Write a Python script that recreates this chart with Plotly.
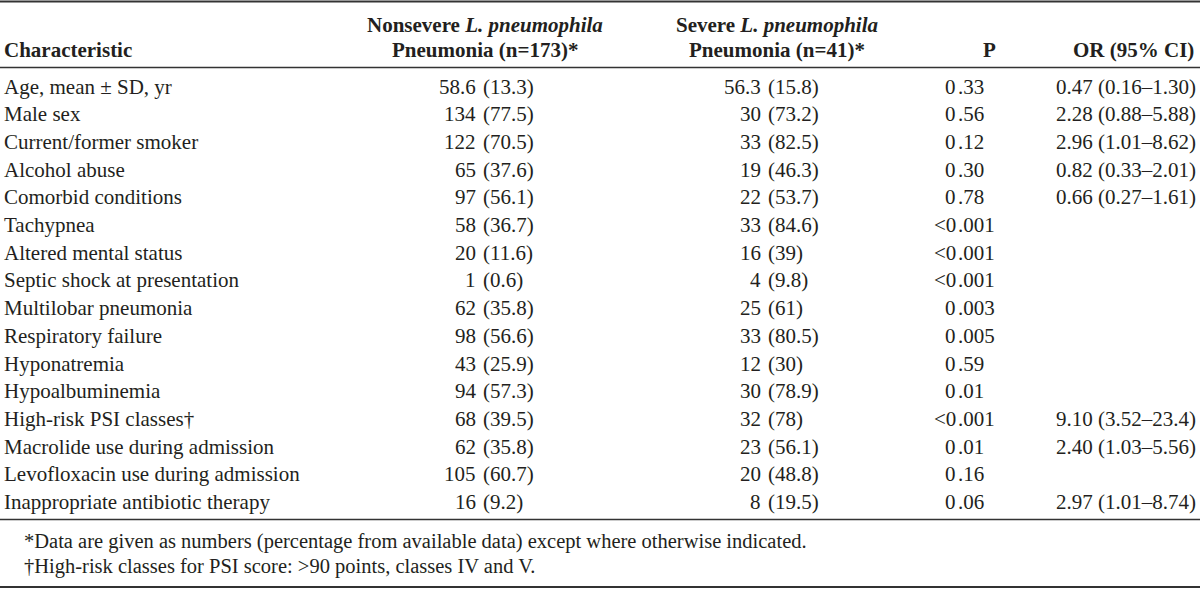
import plotly.graph_objects as go

characteristics = [
    "Age, mean ± SD, yr", "Male sex", "Current/former smoker", "Alcohol abuse",
    "Comorbid conditions", "Tachypnea", "Altered mental status",
    "Septic shock at presentation", "Multilobar pneumonia", "Respiratory failure",
    "Hyponatremia", "Hypoalbuminemia", "High-risk PSI classes†",
    "Macrolide use during admission", "Levofloxacin use during admission",
    "Inappropriate antibiotic therapy",
]
nonsevere_n = ["58.6", "134", "122", "65", "97", "58", "20", "1", "62", "98", "43", "94", "68", "62", "105", "16"]
nonsevere_pct = ["13.3", "77.5", "70.5", "37.6", "56.1", "36.7", "11.6", "0.6", "35.8", "56.6", "25.9", "57.3", "39.5", "35.8", "60.7", "9.2"]
severe_n = ["56.3", "30", "33", "19", "22", "33", "16", "4", "25", "33", "12", "30", "32", "23", "20", "8"]
severe_pct = ["15.8", "73.2", "82.5", "46.3", "53.7", "84.6", "39", "9.8", "61", "80.5", "30", "78.9", "78", "56.1", "48.8", "19.5"]
p_values = ["0.33", "0.56", "0.12", "0.30", "0.78", "<0.001", "<0.001", "<0.001", "0.003", "0.005", "0.59", "0.01", "<0.001", "0.01", "0.16", "0.06"]
odds_ratios = ["0.47 (0.16–1.30)", "2.28 (0.88–5.88)", "2.96 (1.01–8.62)", "0.82 (0.33–2.01)",
               "0.66 (0.27–1.61)", "", "", "", "", "", "", "", "9.10 (3.52–23.4)",
               "2.40 (1.03–5.56)", "", "2.97 (1.01–8.74)"]
headers = ["Characteristic", "Nonsevere <i>L. pneumophila</i><br>Pneumonia (n=173)*",
           "Severe <i>L. pneumophila</i><br>Pneumonia (n=41)*", "P", "OR (95% CI)"]
footnotes = ["*Data are given as numbers (percentage from available data) except where otherwise indicated.",
             "†High-risk classes for PSI score: >90 points, classes IV and V."]

W, H = 1200, 589
FONT = "Liberation Serif"
TXT = "#231f20"
FS = 21

# layout geometry (pixels)
x_char = 3
x_col1 = 482
x_col1_head = 485
x_col2 = 767
x_col2_head = 777
x_p_dec = 957
x_p_head = 997
x_or = 1197
row_y0 = 86.5
row_dy = 27.7
head_y1 = 25
head_y2 = 50
rules = [(1.5, 2.2), (67.5, 1.5), (519.5, 1.5), (587, 2)]
foot_x = 23
foot_y = [541, 566]

fig = go.Figure()
# invisible trace to set up axes
fig.add_trace(go.Scatter(x=[0, W], y=[0, H], mode="markers", marker=dict(opacity=0), hoverinfo="skip", showlegend=False))

ann = []
def add(x, y, text, xanchor, size=FS):
    ann.append(dict(x=x, y=y, xref="x", yref="y", text=text, showarrow=False,
                    xanchor=xanchor, yanchor="middle", borderpad=0,
                    font=dict(family=FONT, size=size, color=TXT)))

# headers
add(x_char, head_y2, "<b>" + headers[0] + "</b>", "left")
for hx, htxt in [(x_col1_head, headers[1]), (x_col2_head, headers[2])]:
    l1, l2 = htxt.split("<br>")
    add(hx, head_y1, "<b>" + l1 + "</b>", "center")
    add(hx, head_y2, "<b>" + l2 + "</b>", "center")
add(x_p_head, head_y2, "<b>" + headers[3] + "</b>", "right")
add(x_or - 2, head_y2, "<b>" + headers[4] + "</b>", "right")

for i, name in enumerate(characteristics):
    y = row_y0 + i * row_dy
    add(x_char, y, name, "left")
    add(x_col1, y, nonsevere_n[i] + " ", "right")
    add(x_col1, y, "(" + nonsevere_pct[i] + ")", "left")
    add(x_col2, y, severe_n[i] + " ", "right")
    add(x_col2, y, "(" + severe_pct[i] + ")", "left")
    pv = p_values[i]
    ip = pv.index(".")
    add(x_p_dec, y, pv[:ip], "right")
    add(x_p_dec, y, pv[ip:], "left")
    if odds_ratios[i]:
        add(x_or, y, odds_ratios[i], "right")

for k, ft in enumerate(footnotes):
    add(foot_x, foot_y[k], ft, "left", size=20.5)

shapes = []
for ry, lw in rules:
    shapes.append(dict(type="line", xref="x", yref="y", x0=0, x1=W, y0=ry, y1=ry,
                       line=dict(color="#333333", width=lw)))

fig.update_layout(
    width=W, height=H, margin=dict(l=0, r=0, t=0, b=0),
    paper_bgcolor="white", plot_bgcolor="white",
    xaxis=dict(range=[0, W], visible=False, fixedrange=True),
    yaxis=dict(range=[H, 0], visible=False, fixedrange=True),
    annotations=ann, shapes=shapes, showlegend=False,
)
fig.write_html("out.html", config={"displayModeBar": False},
               post_script="document.body.style.margin='0';document.body.style.overflow='hidden';")
